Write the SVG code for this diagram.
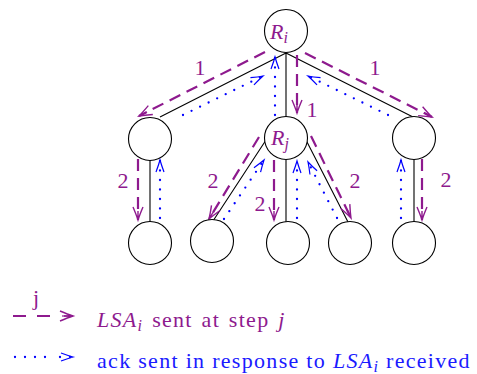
<svg xmlns="http://www.w3.org/2000/svg" width="477" height="374" viewBox="0 0 477 374">
<defs>
<marker id="ah-p" markerUnits="userSpaceOnUse" orient="auto" refX="0" refY="0" markerWidth="30" markerHeight="30" viewBox="-15 -15 30 30" overflow="visible">
<path d="M-13,-5 Q-5,-1.6 0,0 Q-5,1.6 -13,5 M-9,0 L0,0" fill="none" stroke="#8e1a8e" stroke-width="1.4"/>
</marker>
<marker id="ah-b" markerUnits="userSpaceOnUse" orient="auto" refX="0" refY="0" markerWidth="30" markerHeight="30" viewBox="-15 -15 30 30" overflow="visible">
<path d="M-12,-4 Q-5,-1.4 0,0 Q-5,1.4 -12,4" fill="none" stroke="#0000ff" stroke-width="1.2"/>
</marker>
</defs>
<g id="connectors">
<path stroke="#000" stroke-width="1.1" fill="none" d="M286,53 L160,117 M286,53 L286,117 M286,53 L413,117 M150,160 L150,222 M266,140 L213,221 M286,159 L286,222 M306,140 L348,222 M414,159 L414,222"/>
<g stroke="#8e1a8e" stroke-width="2.2" stroke-dasharray="12 7" fill="none" marker-end="url(#ah-p)">
<path d="M265,52 L139,116"/>
<path d="M305,53 L432,117"/>
<path d="M297,55 L297,113"/>
<path d="M138,159 L138,220"/>
<path d="M259,137 L209,219"/>
<path d="M274,160 L274,220"/>
<path d="M311,136 L351,218"/>
<path d="M422,159 L422,220"/>
</g>
<g stroke="#0000ff" stroke-width="2.3" stroke-dasharray="0 9.5" stroke-linecap="round" fill="none" marker-end="url(#ah-b)">
<path d="M183,115 L263,76"/>
<path d="M275,115 L275,57"/>
<path d="M388,115 L308,76"/>
<path d="M160,218 L160,160"/>
<path d="M224,219 L264,160"/>
<path d="M297,218 L297,161"/>
<path d="M337,218 L308,162"/>
<path d="M401,218 L401,160"/>
</g>
<g font-family="Liberation Serif" font-size="22" fill="#8e1a8e" text-anchor="middle">
<text x="200" y="75">1</text>
<text x="375" y="75">1</text>
<text x="312" y="117">1</text>
<text x="123" y="188">2</text>
<text x="213" y="188">2</text>
<text x="260" y="211">2</text>
<text x="355" y="188">2</text>
<text x="446" y="187">2</text>
</g>
</g>
<g fill="#fff" stroke="#000" stroke-width="1.1">
<g id="Ri"><circle cx="286" cy="31" r="21.5"/><text fill="#8e1a8e" stroke="none" font-family="Liberation Serif" font-size="22" x="270" y="39"><tspan font-style="italic">R</tspan><tspan font-style="italic" font-size="16" dy="4">i</tspan></text></g>
<g id="n1"><circle cx="150" cy="139" r="21.5"/></g>
<g id="Rj"><circle cx="286" cy="138" r="21.5"/><text fill="#8e1a8e" stroke="none" font-family="Liberation Serif" font-size="22" x="271" y="145"><tspan font-style="italic">R</tspan><tspan font-style="italic" font-size="16" dy="4">j</tspan></text></g>
<g id="n3"><circle cx="414" cy="138" r="21.5"/></g>
<g id="l1"><circle cx="150" cy="243" r="21.5"/></g>
<g id="l2"><circle cx="212" cy="241" r="21.5"/></g>
<g id="l3"><circle cx="288" cy="243" r="21.5"/></g>
<g id="l4"><circle cx="350" cy="243" r="21.5"/></g>
<g id="l5"><circle cx="414" cy="243" r="21.5"/></g>
</g>
<g id="legend">
<path d="M13,316 L26,316 M37,316 L50,316" stroke="#8e1a8e" stroke-width="2.2" fill="none"/>
<path d="M62,316 L73,316" stroke="#8e1a8e" stroke-width="1.2" fill="none" marker-end="url(#ah-p)"/>
<text fill="#8e1a8e" font-family="Liberation Serif" font-size="22" x="36" y="305" text-anchor="middle">j</text>
<text fill="#8e1a8e" font-family="Liberation Serif" font-size="22" x="97" y="327" letter-spacing="1.3" word-spacing="2"><tspan font-style="italic">LSA</tspan><tspan font-style="italic" font-size="16" dy="4">i</tspan><tspan dy="-4"> sent at step </tspan><tspan font-style="italic">j</tspan></text>
<path d="M15,357 L55,357" stroke="#0000ff" stroke-width="2.3" stroke-dasharray="0 10" stroke-linecap="round" fill="none"/>
<path d="M60,357 L73,357" stroke="#0000ff" stroke-width="2.3" stroke-dasharray="0 10" stroke-linecap="round" fill="none" marker-end="url(#ah-b)"/>
<text fill="#1a1aff" font-family="Liberation Serif" font-size="22" x="97" y="368" letter-spacing="1.3">ack sent in response to <tspan font-style="italic">LSA</tspan><tspan font-style="italic" font-size="16" dy="4">i</tspan><tspan dy="-4"> received</tspan></text>
</g>
</svg>
